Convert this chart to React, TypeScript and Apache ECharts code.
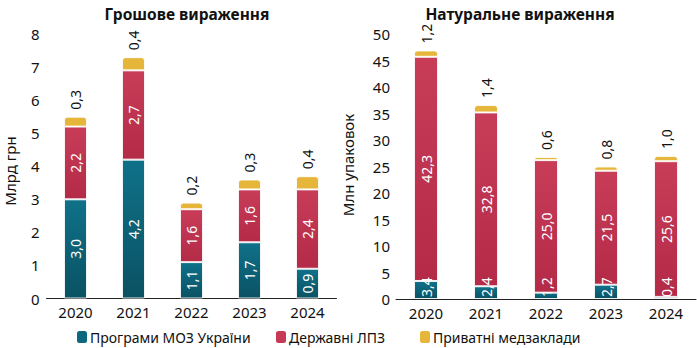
import React, { useEffect, useRef } from "react";
import * as echarts from "echarts";

const years = ["2020", "2021", "2022", "2023", "2024"];
const seriesNames = ["Програми МОЗ України", "Державні ЛПЗ", "Приватні медзаклади"];
// Грошове вираження, млрд грн
const moneyMoz = [3.0, 4.2, 1.1, 1.7, 0.9];
const moneyState = [2.2, 2.7, 1.6, 1.6, 2.4];
const moneyPrivate = [0.3, 0.4, 0.2, 0.3, 0.4];
// Натуральне вираження, млн упаковок
const unitsMoz = [3.4, 2.4, 1.2, 2.7, 0.4];
const unitsState = [42.3, 32.8, 25.0, 21.5, 25.6];
const unitsPrivate = [1.2, 1.4, 0.6, 0.8, 1.0];

const FONT = "Noto Sans";
const fmt = (v: number) => v.toFixed(1).replace(".", ",");

const tealGrad = new echarts.graphic.LinearGradient(0, 0, 0, 1, [
  { offset: 0, color: "#0f7189" },
  { offset: 1, color: "#0a5263" },
]);
const redGrad = new echarts.graphic.LinearGradient(0, 0, 0, 1, [
  { offset: 0, color: "#c83c58" },
  { offset: 1, color: "#b42b47" },
]);
const yellow = "#e6b63b";
const legendColors = ["#0d687f", "#c63a56", yellow];
const legendLefts = [77, 276, 420];

export default function App() {
  const ref = useRef<HTMLDivElement>(null);
  useEffect(() => {
    if (!ref.current) return;
    const chart = echarts.init(ref.current, null, { renderer: "svg" });

    const insideLabel = {
      show: true,
      rotate: 90,
      position: "inside",
      color: "#fff",
      fontFamily: FONT,
      fontSize: 14,
      formatter: (p: any) => fmt(p.value),
    };
    const bottomLabel = {
      show: true,
      rotate: 90,
      position: "insideBottom",
      align: "left",
      verticalAlign: "middle",
      distance: 2,
      color: "#fff",
      fontFamily: FONT,
      fontSize: 14,
      formatter: (p: any) => fmt(p.value),
    };
    const topLabel = {
      show: true,
      rotate: 90,
      position: "top",
      align: "left",
      verticalAlign: "middle",
      distance: 7,
      color: "#111",
      fontFamily: FONT,
      fontSize: 14,
      formatter: (p: any) => fmt(p.value),
    };
    const border = { borderColor: "rgba(255,255,255,0.85)", borderWidth: 1 };

    const mk = (
      name: string,
      data: number[],
      idx: number,
      color: any,
      label: any,
      bw: number,
      radius?: number[]
    ) => ({
      type: "bar",
      name,
      data,
      xAxisIndex: idx,
      yAxisIndex: idx,
      stack: "s" + idx,
      barWidth: bw,
      itemStyle: { color, ...border, borderRadius: radius || 0 },
      label,
    });

    const xAxisCommon = {
      type: "category",
      data: years,
      axisTick: { show: false },
      axisLine: { lineStyle: { color: "#222", width: 1 } },
      axisLabel: { color: "#111", fontFamily: FONT, fontSize: 15, margin: 6 },
    };

    chart.setOption({
      animation: false,
      textStyle: { fontFamily: FONT },
      title: [
        {
          text: "Грошове вираження",
          left: 182,
          top: 1,
          textAlign: "center",
          textStyle: { fontFamily: FONT, fontSize: 15.5, fontWeight: "bold", color: "#111" },
        },
        {
          text: "Натуральне вираження",
          left: 515,
          top: 1,
          textAlign: "center",
          textStyle: { fontFamily: FONT, fontSize: 15.5, fontWeight: "bold", color: "#111" },
        },
      ],
      legend: seriesNames.map((n, i) => ({
        left: legendLefts[i],
        top: 330,
        padding: 0,
        itemWidth: 10,
        itemHeight: 12,
        icon: "roundRect",
        textStyle: { fontFamily: FONT, fontSize: 14, color: "#111", padding: [0, 0, 0, -2] },
        data: [{ name: n, itemStyle: { color: legendColors[i], borderWidth: 0 } }],
      })),
      graphic: [
        {
          type: "text",
          x: 10,
          y: 171,
          rotation: Math.PI / 2,
          style: {
            text: "Млрд грн",
            fill: "#111",
            font: `15px "${FONT}"`,
            textAlign: "center",
            textVerticalAlign: "middle",
          },
        },
        {
          type: "text",
          x: 348,
          y: 165,
          rotation: Math.PI / 2,
          style: {
            text: "Млн упаковок",
            fill: "#111",
            font: `15px "${FONT}"`,
            textAlign: "center",
            textVerticalAlign: "middle",
          },
        },
      ],
      grid: [
        { left: 46.5, top: 34, width: 290, height: 264.5 },
        { left: 396, top: 34, width: 300, height: 265 },
      ],
      xAxis: [
        { ...xAxisCommon, gridIndex: 0 },
        { ...xAxisCommon, gridIndex: 1 },
      ],
      yAxis: [
        {
          type: "value",
          gridIndex: 0,
          min: 0,
          max: 8,
          interval: 1,
          splitLine: { show: false },
          axisLine: { show: false },
          axisTick: { show: false },
          axisLabel: { color: "#111", fontFamily: FONT, fontSize: 15, margin: 7 },
        },
        {
          type: "value",
          gridIndex: 1,
          min: 0,
          max: 50,
          interval: 5,
          splitLine: { show: false },
          axisLine: { show: false },
          axisTick: { show: false },
          axisLabel: { color: "#111", fontFamily: FONT, fontSize: 15, margin: 6 },
        },
      ],
      series: [
        mk(seriesNames[0], moneyMoz, 0, tealGrad, insideLabel, 23),
        mk(seriesNames[1], moneyState, 0, redGrad, insideLabel, 23),
        mk(seriesNames[2], moneyPrivate, 0, yellow, topLabel, 23, [3, 3, 0, 0]),
        mk(seriesNames[0], unitsMoz, 1, tealGrad, bottomLabel, 24),
        mk(seriesNames[1], unitsState, 1, redGrad, insideLabel, 24),
        mk(seriesNames[2], unitsPrivate, 1, yellow, topLabel, 24, [3, 3, 0, 0]),
      ],
    });
    return () => chart.dispose();
  }, []);
  return <div ref={ref} style={{ width: 697, height: 348, position: "absolute", left: 0, top: 0 }} />;
}
